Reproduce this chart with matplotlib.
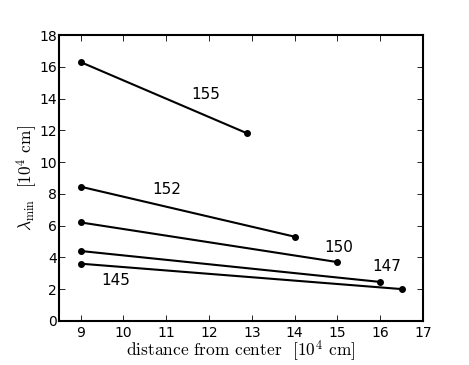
import matplotlib
matplotlib.use("Agg")
import matplotlib.pyplot as plt

# lambda_min vs distance, one segment per case (start, end)
labels = ["155", "152", "150", "147", "145"]
x_start = [9, 9, 9, 9, 9]
x_end = [12.9, 14, 15, 16, 16.5]
y_start = [16.3, 8.45, 6.2, 4.4, 3.6]
y_end = [11.8, 5.3, 3.7, 2.45, 2.0]
label_x = [11.92, 11.02, 15.02, 16.16, 9.82]
label_y = [14.26, 8.28, 4.6, 3.4, 2.52]

plt.rcParams.update({
    "mathtext.fontset": "cm",
    "xtick.direction": "in",
    "ytick.direction": "in",
    "xtick.top": True,
    "ytick.right": True,
    "font.size": 10,
})

fig = plt.figure(figsize=(4.69, 3.65), dpi=100)
ax = fig.add_axes([0.126, 0.121, 0.776, 0.783])

for i in range(len(labels)):
    ax.plot([x_start[i], x_end[i]], [y_start[i], y_end[i]], color="black",
            linewidth=1.5, marker="o", markersize=4)
    ax.text(label_x[i], label_y[i], labels[i], fontsize=11,
            ha="center", va="center")

ax.set_xlim(8.5, 17)
ax.set_ylim(0, 18)
ax.set_xticks(range(9, 18))
ax.set_yticks(range(0, 19, 2))
for s in ax.spines.values():
    s.set_linewidth(1.5)
ax.tick_params(length=4, width=0.6)
ax.tick_params(axis="y", pad=1.5)

ax.set_xlabel(r"distance from center  [$10^4$ cm]", fontsize=12.5,
              family="cmr10", labelpad=-1)
ax.set_ylabel(r"$\lambda_{\mathrm{min}}$  [$10^4$ cm]", fontsize=12.5,
              family="cmr10", labelpad=0.5)

fig.savefig("out.png", dpi=100)
